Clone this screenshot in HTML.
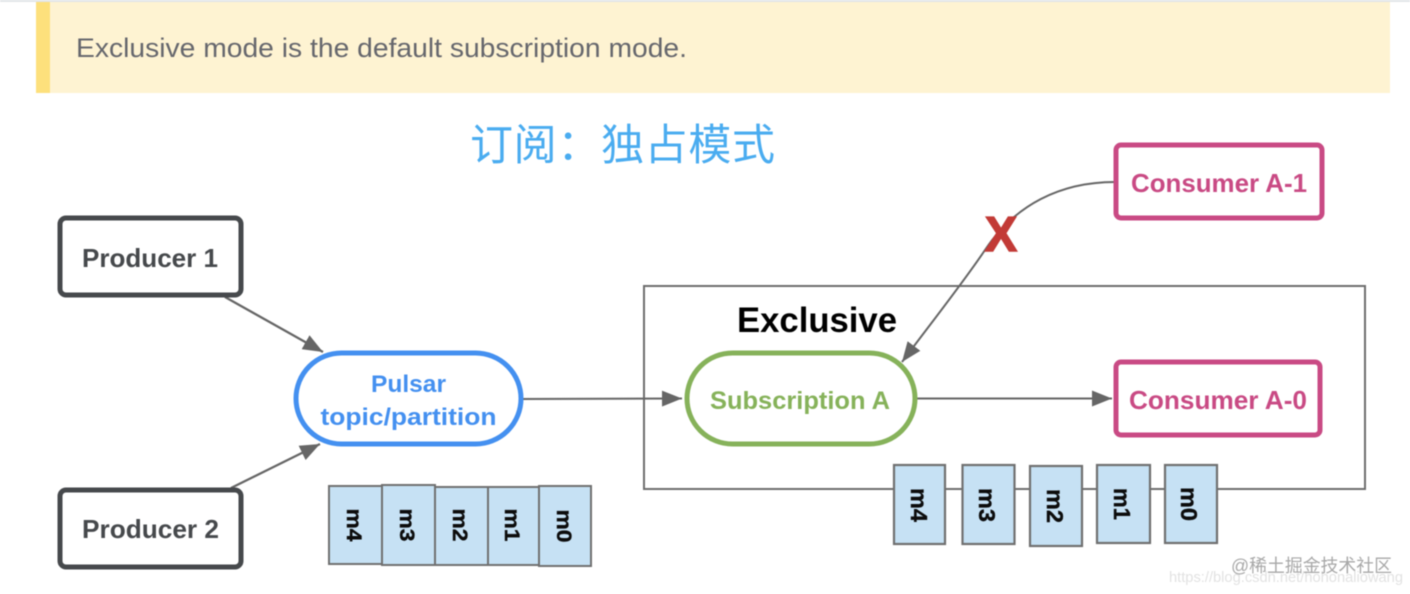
<!DOCTYPE html>
<html><head><meta charset="utf-8"><style>
html,body{margin:0;padding:0;background:#fff;width:1410px;height:594px;overflow:hidden}
svg{display:block;filter:blur(0.45px)}
text{font-family:"Liberation Sans","Noto Sans CJK SC",sans-serif}
.b{font-weight:700}
</style></head><body>
<svg width="1410" height="594" viewBox="0 0 1410 594" xmlns="http://www.w3.org/2000/svg">
<defs>
<marker id="a" viewBox="0 0 20 16" refX="20" refY="8" markerWidth="20" markerHeight="16" markerUnits="userSpaceOnUse" orient="auto"><path d="M0 0L20 8L0 16Z" fill="#666"/></marker>
</defs>
<rect x="0" y="0" width="1410" height="2" fill="#e3e6e8"/>
<rect x="36" y="2" width="1354" height="91" fill="#fef3d2"/>
<rect x="36" y="2" width="14" height="91" fill="#fde07c"/>
<text x="76" y="57" font-size="27" fill="#66676d" textLength="611" lengthAdjust="spacingAndGlyphs">Exclusive mode is the default subscription mode.</text>
<text x="470" y="160" font-size="43" fill="#4aacf0" style="font-family:'Noto Sans CJK SC',sans-serif" textLength="305" lengthAdjust="spacing">订阅：独占模式</text>

<!-- Exclusive box -->
<rect x="644" y="286" width="721" height="203" fill="none" stroke="#6e6e6e" stroke-width="2"/>
<text x="737" y="332" class="b" font-size="35" fill="#000" textLength="160" lengthAdjust="spacingAndGlyphs">Exclusive</text>

<!-- connectors -->
<g fill="none" stroke="#666" stroke-width="2">
<path d="M225 297L323 352" marker-end="url(#a)" stroke-width="2.2"/>
<path d="M231 488L320 444" marker-end="url(#a)" stroke-width="2.2"/>
<path d="M522 399L682 398.500" marker-end="url(#a)"/>
<path d="M916 398.500L1112 398.500" marker-end="url(#a)"/>
<path d="M1115 182C1060 182 1015 205 985 250C965 280 935 318 902 362" marker-end="url(#a)"/>
</g>

<!-- Producers -->
<rect x="60" y="218" width="181" height="77" rx="6" fill="#fff" stroke="#46494c" stroke-width="5"/>
<text x="82" y="267" class="b" font-size="26" fill="#46494c" textLength="136" lengthAdjust="spacingAndGlyphs">Producer 1</text>
<rect x="60" y="490" width="181" height="77" rx="6" fill="#fff" stroke="#46494c" stroke-width="5"/>
<text x="82" y="538" class="b" font-size="26" fill="#46494c" textLength="137" lengthAdjust="spacingAndGlyphs">Producer 2</text>

<!-- Pulsar -->
<rect x="296" y="353" width="225" height="91" rx="45.500" fill="#fff" stroke="#4490f0" stroke-width="5"/>
<text x="408.500" y="392" class="b" font-size="24" fill="#4490f0" text-anchor="middle" textLength="75" lengthAdjust="spacingAndGlyphs">Pulsar</text>
<text x="408.500" y="425" class="b" font-size="24" fill="#4490f0" text-anchor="middle" textLength="176" lengthAdjust="spacingAndGlyphs">topic/partition</text>

<!-- Subscription -->
<rect x="687" y="353" width="228" height="91" rx="45.500" fill="#fff" stroke="#86b25a" stroke-width="5"/>
<text x="710" y="409" class="b" font-size="25" fill="#86b25a" textLength="180" lengthAdjust="spacingAndGlyphs">Subscription A</text>

<!-- Consumers -->
<rect x="1116" y="145" width="206" height="73" rx="5" fill="#fff" stroke="#c94a84" stroke-width="5"/>
<text x="1131" y="192" class="b" font-size="26" fill="#c94a84" textLength="176" lengthAdjust="spacingAndGlyphs">Consumer A-1</text>
<rect x="1116" y="362" width="204" height="73" rx="5" fill="#fff" stroke="#c94a84" stroke-width="5"/>
<text x="1129" y="409" class="b" font-size="26" fill="#c94a84" textLength="178" lengthAdjust="spacingAndGlyphs">Consumer A-0</text>

<!-- X -->
<text x="985" y="251" class="b" font-size="49" fill="#c23a36" stroke="#c23a36" stroke-width="1.6" textLength="32" lengthAdjust="spacingAndGlyphs">X</text>

<!-- left queue -->
<g fill="#c6e1f4" stroke="#707070" stroke-width="2">
<rect x="329" y="486" width="53" height="78"/>
<rect x="382" y="485" width="53" height="80"/>
<rect x="435" y="487" width="53" height="78"/>
<rect x="488" y="487" width="51" height="78"/>
<rect x="539" y="486" width="52" height="80"/>
</g>
<!-- right queue -->
<g fill="#c6e1f4" stroke="#707070" stroke-width="2.200">
<rect x="894" y="465" width="51" height="79"/>
<rect x="962.500" y="465" width="52" height="79"/>
<rect x="1030" y="466" width="52" height="80"/>
<rect x="1097" y="465" width="53" height="78"/>
<rect x="1165" y="465" width="52" height="78"/>
</g>
<g class="b" font-weight="700" fill="#0c0c0c" stroke="#0c0c0c" stroke-width="0.4" text-anchor="middle">
<g font-size="21">
<text transform="translate(347 525) rotate(90)" textLength="33" lengthAdjust="spacingAndGlyphs">m4</text>
<text transform="translate(400 525) rotate(90)" textLength="33" lengthAdjust="spacingAndGlyphs">m3</text>
<text transform="translate(453 525) rotate(90)" textLength="33" lengthAdjust="spacingAndGlyphs">m2</text>
<text transform="translate(505 525) rotate(90)" textLength="33" lengthAdjust="spacingAndGlyphs">m1</text>
<text transform="translate(557 526) rotate(90)" textLength="33" lengthAdjust="spacingAndGlyphs">m0</text>
</g>
<g font-size="23">
<text transform="translate(911 505) rotate(90)" textLength="34" lengthAdjust="spacingAndGlyphs">m4</text>
<text transform="translate(979 505) rotate(90)" textLength="34" lengthAdjust="spacingAndGlyphs">m3</text>
<text transform="translate(1047 506) rotate(90)" textLength="34" lengthAdjust="spacingAndGlyphs">m2</text>
<text transform="translate(1114 504) rotate(90)" textLength="32" lengthAdjust="spacingAndGlyphs">m1</text>
<text transform="translate(1181 504) rotate(90)" textLength="34" lengthAdjust="spacingAndGlyphs">m0</text>
</g>
</g>

<!-- watermark -->
<text x="1169" y="582" font-size="15" fill="#e2e2e2" textLength="234" lengthAdjust="spacingAndGlyphs">https://blog.csdn.net/hohonaliowang</text>
<text x="1231" y="572" font-size="18" fill="#a8a8a8" textLength="161" lengthAdjust="spacingAndGlyphs">@稀土掘金技术社区</text>
</svg>
</body></html>
